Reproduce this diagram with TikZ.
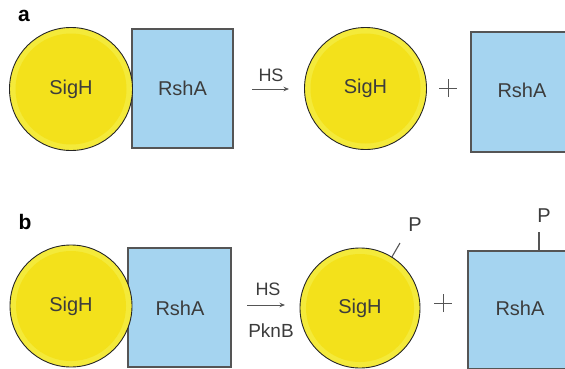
\documentclass[tikz,border=0pt]{standalone}
\usepackage{fontspec}
\setmainfont{Liberation Sans}
\usetikzlibrary{arrows.meta}
\definecolor{ringyellow}{HTML}{F4EA3A}
\definecolor{coreyellow}{HTML}{F3E11B}
\definecolor{boxblue}{HTML}{A5D4F0}
\definecolor{edgegray}{HTML}{555555}
\definecolor{txtgray}{HTML}{3C3C3C}
\begin{document}
\begin{tikzpicture}[x=1pt,y=1pt,
  protein/.style={circle, minimum size=#1, inner sep=0pt, fill=ringyellow, draw=black!85, line width=0.9pt,
    text=txtgray, font=\fontsize{20}{24}\selectfont,
    path picture={\fill[coreyellow] (path picture bounding box.center) circle ({#1/2-6pt});}},
  antisigma/.style={rectangle, minimum width=104pt, minimum height=119pt, inner sep=0pt, fill=boxblue,
    draw=edgegray, line width=1.2pt, text=txtgray, font=\fontsize{20}{24}\selectfont},
  panel/.style={font=\bfseries\fontsize{21}{25}\selectfont, text=black},
  cond/.style={text=txtgray, font=\fontsize{18}{22}\selectfont, inner sep=0pt},
  react/.style={draw=edgegray, line width=1pt, -{Stealth[length=5.5pt,width=4.5pt]}},
  plus/.style={draw=edgegray, line width=0.9pt},
  phos/.style={draw=edgegray, line width=1.1pt},
  ptext/.style={text=txtgray, font=\fontsize{20}{24}\selectfont, inner sep=0pt}]
\useasboundingbox (0,0) rectangle (565,368);
% panel a
\node[panel] (la) at (24,352) {a};
\node[antisigma, minimum width=101pt] (r1) at (182.5,279.5) {RshA};
\node[protein=123pt] (c1) at (71,279) {SigH};
\coordinate (a1s) at (252,279);
\coordinate (a1e) at (289,279);
\draw[react] (a1s) -- (a1e);
\node[cond] (hs1) at (271,293) {HS};
\node[protein=122pt] (c2) at (365.5,279.5) {SigH};
\coordinate (p1c) at (448,280);
\draw[plus] ([xshift=-9pt]p1c) -- ([xshift=9pt]p1c) ([yshift=-9pt]p1c) -- ([yshift=9pt]p1c);
\node[antisigma, minimum height=120pt] (r2) at (523,276) {};
\node[text=txtgray, font=\fontsize{20}{24}\selectfont] (t2) at (522,278) {RshA};
% panel b
\node[panel] (lb) at (25,146) {b};
\node[antisigma, minimum width=103pt] (r3) at (179.5,60.5) {};
\node[text=txtgray, font=\fontsize{20}{24}\selectfont] (t3) at (180,60) {RshA};
\node[protein=122pt] (c3) at (71,62) {SigH};
\coordinate (a2s) at (247,63);
\coordinate (a2e) at (285,63);
\draw[react] (a2s) -- (a2e);
\node[cond] (hs2) at (268,78.5) {HS};
\node[cond, font=\fontsize{19}{23}\selectfont] (pk) at (271,37) {PknB};
\node[protein=120pt] (c4) at (360,60) {SigH};
\coordinate (pp1) at (400,125);
\draw[phos] (c4.58) -- (pp1);
\node[ptext] (pl1) at (415,143) {P};
\coordinate (p2c) at (443,65);
\draw[plus] ([xshift=-9pt]p2c) -- ([xshift=9pt]p2c) ([yshift=-9pt]p2c) -- ([yshift=9pt]p2c);
\node[antisigma, minimum height=118pt] (r4) at (520,58) {};
\node[text=txtgray, font=\fontsize{20}{24}\selectfont] (t4) at (520,60) {RshA};
\coordinate (pp2) at (539,136);
\draw[phos] (539,117) -- (pp2);
\node[ptext] (pl2) at (544,152) {P};
\end{tikzpicture}
\end{document}
